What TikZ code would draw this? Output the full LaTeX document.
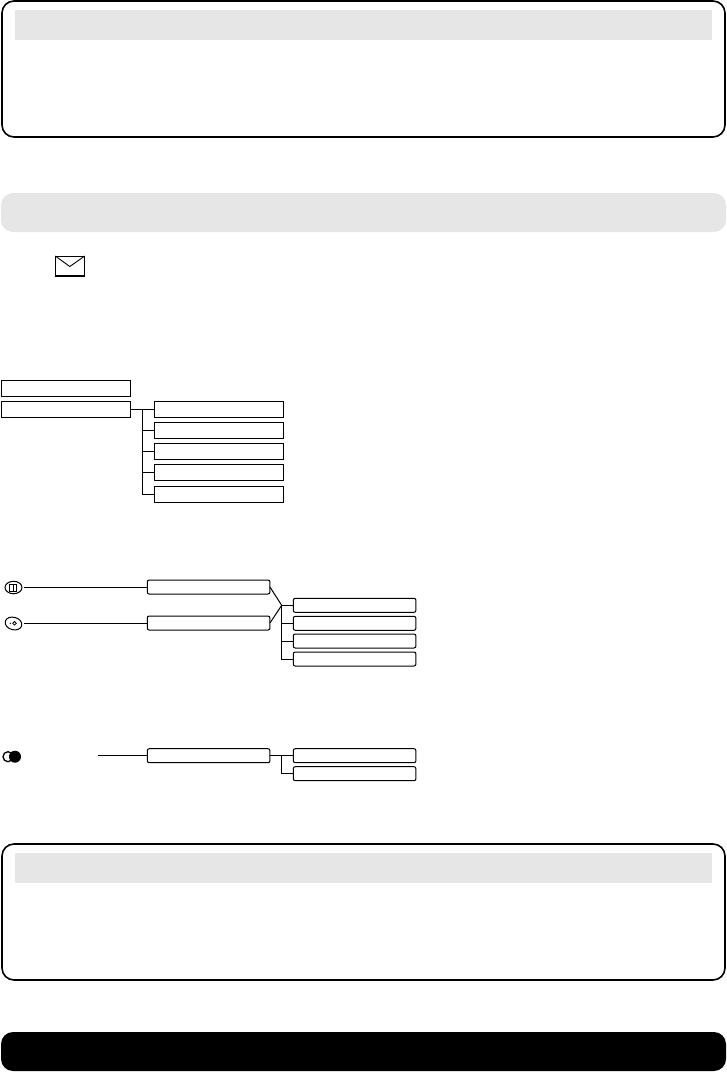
\documentclass[tikz,border=0pt]{standalone}
\usepackage{tikz}
\usetikzlibrary{shapes.geometric}

\definecolor{panelgray}{HTML}{E6E6E6}

\tikzset{
  panel/.style={draw, line width=1.6pt, rounded corners=12pt, minimum width=723pt, minimum height=136pt, inner sep=0pt, outer sep=0pt},
  band/.style={rounded corners=12pt, minimum width=725pt, minimum height=39pt, inner sep=0pt, outer sep=0pt},
  heading/.style={fill=panelgray, minimum width=697pt, minimum height=30pt, inner sep=0pt, outer sep=0pt},
  menubox/.style={draw, line width=1.2pt, minimum width=129pt, minimum height=16pt, inner sep=0pt, outer sep=0pt},
  softbox/.style={draw, line width=1pt, rounded corners=2pt, minimum width=122.7pt, minimum height=14pt, inner sep=0pt, outer sep=0pt},
  link/.style={line width=1pt},
  button/.style={draw, line width=1pt, shape=ellipse, minimum width=17pt, minimum height=12.5pt, inner sep=0pt, outer sep=0pt}
}

\begin{document}
\begin{tikzpicture}[x=1pt, y=-1pt]
  \useasboundingbox (0,0) rectangle (727,1072);

  % upper panel
  \node[panel] (panelA) at (363.5,69) {};
  \node[heading] (headA) at (363.5,25) {};

  % grey band
  \node[band, fill=panelgray] (bandA) at (363.5,212.5) {};

  % envelope
  \node[draw, line width=1pt, minimum width=29.5pt, minimum height=20pt, inner sep=0pt, outer sep=0pt] (mail) at (70,266) {};
  \coordinate (mailfold) at (69.8,266.5);
  \draw[line width=0.9pt] (mail.north west) -- (mailfold) -- (mail.north east);
  \draw[line width=1.4pt] (mail.south west) -- (mail.south east);

  % first menu
  \node[menubox] (menuA) at (66,388.4) {};
  \node[menubox] (menuB) at (66,409.4) {};
  \node[menubox] (itemA1) at (218.8,409.4) {};
  \node[menubox] (itemA2) at (218.8,430.4) {};
  \node[menubox] (itemA3) at (218.8,451.4) {};
  \node[menubox] (itemA4) at (218.8,472.4) {};
  \node[menubox] (itemA5) at (218.8,494.4) {};
  \coordinate (trunkA) at (142.5,409.4);
  \draw[link] (menuB.east) -- (itemA1.west);
  \foreach \n in {2,...,5}
    \draw[link] (trunkA) |- (itemA\n.west);

  % second menu
  \node[softbox] (menuC) at (208.6,587) {};
  \node[softbox] (menuD) at (208.6,623) {};
  \node[button] (iconbook) at (13.5,587.5) {};
  \draw[line width=0.9pt] (9.5,584.5) rectangle (13,591) (13,584.5) rectangle (16.5,591);
  \node[button, rotate=-15] (iconsound) at (13.5,623.5) {};
  \node[diamond, draw, line width=0.8pt, inner sep=1pt] (sounddot) at (14.5,623.3) {};
  \fill (10.3,623.3) circle (0.7);
  \node[softbox] (itemB1) at (354.6,605.3) {};
  \node[softbox] (itemB2) at (354.6,623.3) {};
  \node[softbox] (itemB3) at (354.6,641) {};
  \node[softbox] (itemB4) at (354.6,659) {};
  \coordinate (trunkB) at (281.7,605.3);
  \draw[link, shorten <=2pt] (iconbook.east |- menuC.west) -- (menuC.west);
  \draw[link, shorten <=2pt] (iconsound.east |- menuD.west) -- (menuD.west);
  \draw[link] (menuC.east) -- (trunkB);
  \draw[link] (menuD.east) -- (trunkB);
  \draw[link] (trunkB) -- (itemB1.west);
  \foreach \n in {2,3,4}
    \draw[link] (trunkB) |- (itemB\n.west);

  % third menu
  \node[draw, line width=1.3pt, circle, minimum size=10pt, inner sep=0pt, outer sep=0pt] (ringopen) at (8,756.7) {};
  \node[fill, circle, minimum size=12pt, inner sep=0pt, outer sep=0pt] (ringfull) at (15,756.7) {};
  \coordinate (wireC) at (98,755.7);
  \node[softbox] (menuE) at (208.6,755.7) {};
  \node[softbox] (itemC1) at (354.6,755.7) {};
  \node[softbox] (itemC2) at (354.6,773.7) {};
  \coordinate (trunkC) at (281.7,755.7);
  \draw[link] (wireC) -- (menuE.west);
  \draw[link] (menuE.east) -- (itemC1.west);
  \draw[link] (trunkC) |- (itemC2.west);

  % lower panel
  \node[panel] (panelB) at (363.5,912) {};
  \node[heading] (headB) at (363.5,868) {};

  % black band
  \node[band, fill=black] (bandB) at (363.5,1051.5) {};
\end{tikzpicture}
\end{document}
